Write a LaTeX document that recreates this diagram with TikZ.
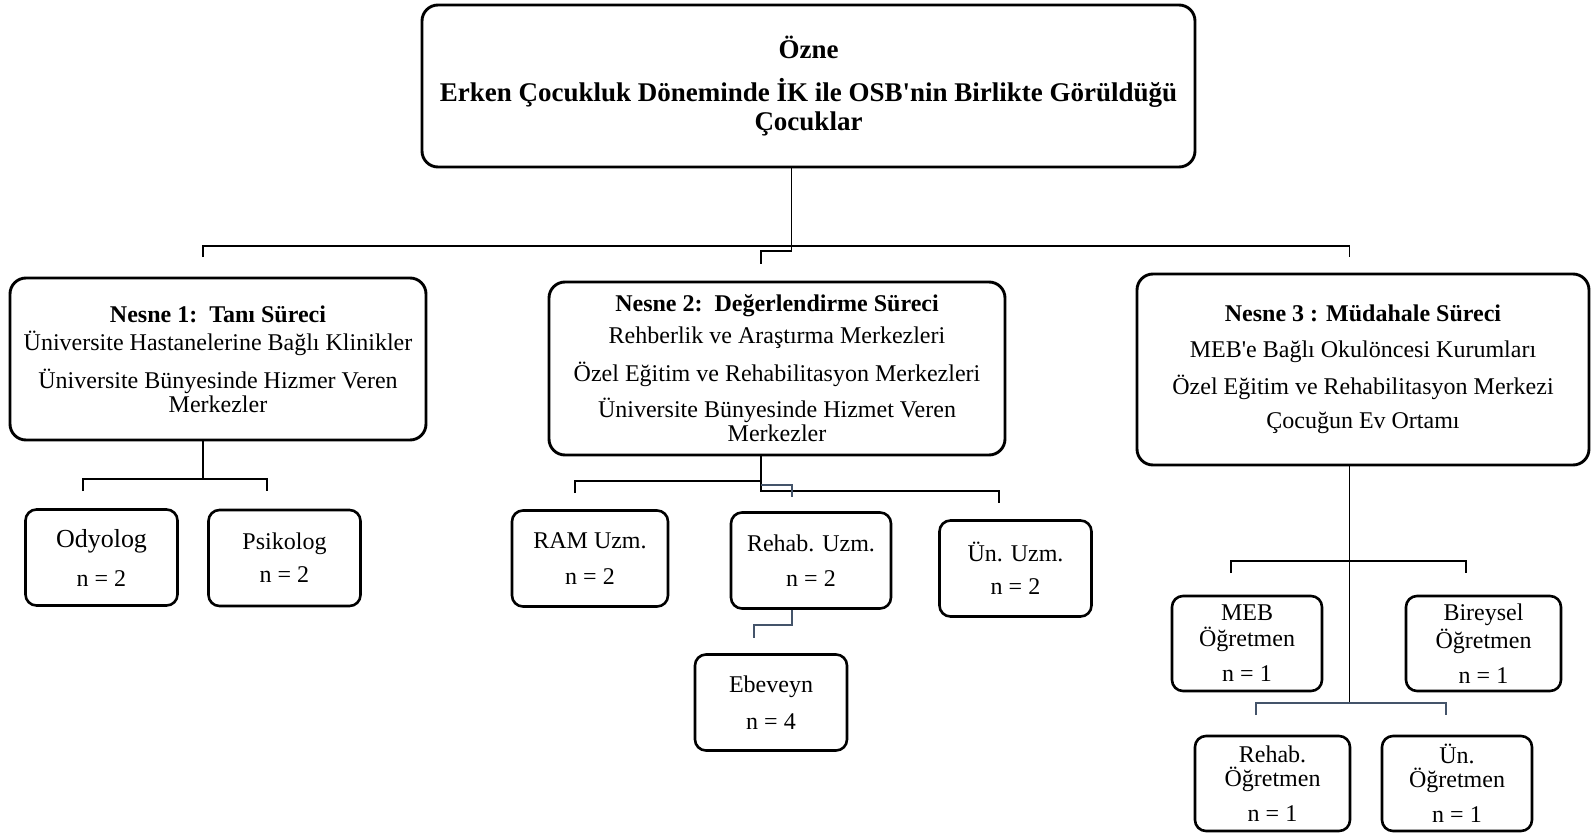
\documentclass[tikz,border=0pt]{standalone}
\usepackage{fontspec}
\setmainfont{Liberation Serif}
\definecolor{jogblue}{RGB}{68,84,106}

\begin{document}
\begin{tikzpicture}[x=1pt,y=-1pt,
	kutu/.style={draw,rounded corners=16pt,line width=2.9pt,align=center,inner sep=0pt,font=\fontsize{24}{24}\selectfont},
	kisi/.style={draw,rounded corners=11pt,line width=2.6pt,align=center,inner sep=0pt,minimum width=152pt,minimum height=96pt,font=\fontsize{24}{24}\selectfont},
	hat/.style={line width=1.4pt},
	ara/.style={line width=1.4pt,draw=jogblue}]

	\useasboundingbox (0,0) rectangle (1591,835);

	\node (ozne)	at	(808.5,86) [kutu,minimum width=773pt,minimum height=162pt,font=\bfseries\fontsize{27}{28.5}\selectfont] {Özne\\[14.5pt] Erken Çocukluk Döneminde İK ile OSB\textquotesingle nin Birlikte Görüldüğü\\ Çocuklar};

	\node (n1)	at	(218,359) [kutu,minimum width=416pt,minimum height=162pt] {\textbf{Nesne 1:\ \ Tanı Süreci}\\[4pt] Üniversite Hastanelerine Bağlı Klinikler\\[12.5pt] Üniversite Bünyesinde Hizmer Veren\\ Merkezler};
	\node (n2)	at	(777,368.5) [kutu,minimum width=456pt,minimum height=173pt] {\textbf{Nesne 2:\ \ Değerlendirme Süreci}\\[8pt] Rehberlik ve Araştırma Merkezleri\\[12pt] Özel Eğitim ve Rehabilitasyon Merkezleri\\[11pt] Üniversite Bünyesinde Hizmet Veren\\ Merkezler};
	\node (n3)	at	(1363,369.5) [kutu,minimum width=452pt,minimum height=191pt] {\textbf{Nesne 3 : Müdahale Süreci}\\[12pt] MEB\textquotesingle e Bağlı Okulöncesi Kurumları\\[10.6pt] Özel Eğitim ve Rehabilitasyon Merkezi\\[10.4pt] Çocuğun Ev Ortamı};

	\node (odyolog)	at	(101.5,557.5) [kisi] {{\fontsize{26}{26}\selectfont Odyolog}\\[15pt] n = 2};
	\node (psikolog)	at	(284.5,558) [kisi] {Psikolog\\[9pt] n = 2};

	\node (ram)	at	(590,558.5) [kisi,minimum width=156pt] {RAM Uzm.\\[12pt] n = 2};
	\node (rehabuzm)	at	(811,560.5) [kisi,minimum width=160pt] {Rehab. Uzm.\\[11pt] n = 2};
	\node (unuzm)	at	(1015.5,568.5) [kisi] {Ün. Uzm.\\[8.5pt] n = 2};
	\node (ebeveyn)	at	(771,702.5) [kisi] {Ebeveyn\\[13.5pt] n = 4};

	\node (meb)	at	(1247,643.5) [kisi,minimum width=150pt,minimum height=95pt] {MEB\\[2pt] Öğretmen\\[11pt] n = 1};
	\node (bireysel)	at	(1483.5,643.5) [kisi,minimum width=155pt,minimum height=95pt] {Bireysel\\[2pt] Öğretmen\\[11pt] n = 1};
	\node (rehabogr)	at	(1272.5,783.5) [kisi,minimum width=155pt,minimum height=95pt] {Rehab.\\ Öğretmen\\[11pt] n = 1};
	\node (unogr)	at	(1457,783.5) [kisi,minimum width=150pt,minimum height=95pt] {Ün.\\ Öğretmen\\[11pt] n = 1};

	% ust baglanti
	\coordinate (bus)	at	(791.5,246);
	\coordinate (d1)	at	(203,257);
	\coordinate (d2)	at	(761,264);
	\coordinate (d3)	at	(1349.5,257);
	\draw[hat] (ozne.south -| bus) -- (bus);
	\draw[hat] (d1) |- (bus) -| (d3);
	\draw[hat] (bus) -- ++(0,5) -| (d2);

	% nesne 1
	\coordinate (j1)	at	(203,479);
	\coordinate (e1)	at	(83,491);
	\coordinate (e2)	at	(267,491);
	\draw[hat] (n1.south -| j1) -- (j1);
	\draw[hat] (e1) |- (j1) -| (e2);

	% nesne 2
	\coordinate (j2)	at	(761,481);
	\coordinate (e3)	at	(575,493);
	\coordinate (e4)	at	(792,497);
	\coordinate (e5)	at	(999,503);
	\coordinate (e6)	at	(754,638);
	\draw[hat] (n2.south -| j2) -- (j2) -- ++(0,10) -| (e5);
	\draw[hat] (e3) |- (j2);
	\draw[ara] ([yshift=-4pt]j2) -| (e4);
	\draw[ara] (rehabuzm.south -| e4) -- ++(0,15) -| (e6);

	% nesne 3
	\coordinate (j3)	at	(1349.5,561);
	\coordinate (j4)	at	(1349.5,703);
	\coordinate (e7)	at	(1231,573);
	\coordinate (e8)	at	(1466,573);
	\coordinate (e9)	at	(1256,715);
	\coordinate (e10)	at	(1446,715);
	\draw[hat] (n3.south -| j3) -- (j4);
	\draw[hat] (e7) |- (j3) -| (e8);
	\draw[ara] (e9) |- (j4) -| (e10);

\end{tikzpicture}
\end{document}
